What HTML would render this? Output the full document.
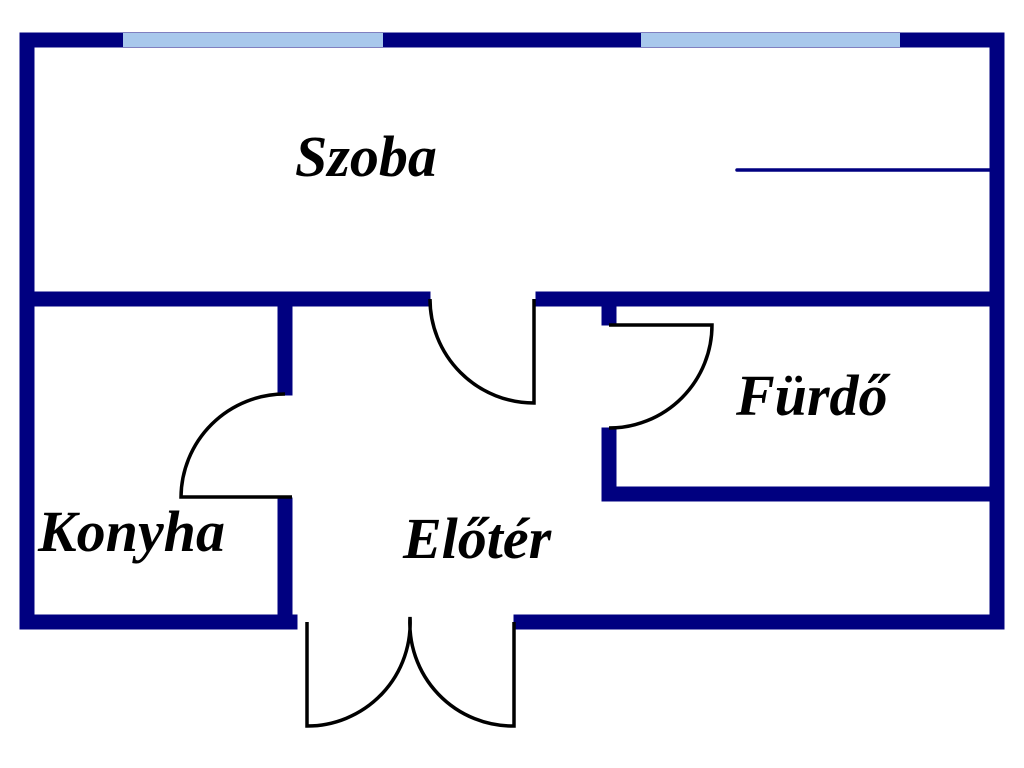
<!DOCTYPE html>
<html><head><meta charset="utf-8"><style>
html,body{margin:0;padding:0;background:#fff;}
svg{display:block;}
text{font-family:"Liberation Serif",serif;font-weight:bold;font-style:italic;fill:#000;font-size:58px;}
</style></head><body>
<svg width="1024" height="768" viewBox="0 0 1024 768" xmlns="http://www.w3.org/2000/svg">
<g stroke="#000080" stroke-width="15" fill="none" stroke-linecap="square">
<line x1="27" y1="40" x2="997" y2="40"/>
<line x1="27" y1="40" x2="27" y2="622"/>
<line x1="997" y1="40" x2="997" y2="622"/>
<line x1="27" y1="622" x2="290" y2="622"/>
<line x1="521" y1="622" x2="997" y2="622"/>
<line x1="27" y1="299" x2="423" y2="299"/>
<line x1="543" y1="299" x2="997" y2="299"/>
<line x1="285" y1="299" x2="285" y2="388"/>
<line x1="285" y1="505" x2="285" y2="622"/>
<line x1="609" y1="299" x2="609" y2="318"/>
<line x1="609" y1="435" x2="609" y2="494"/>
<line x1="609" y1="494" x2="997" y2="494"/>
</g>
<g stroke="#a8c8ec" stroke-width="14">
<line x1="123" y1="40" x2="383" y2="40"/>
<line x1="641" y1="40" x2="900" y2="40"/>
</g>
<line x1="737" y1="170" x2="990" y2="170" stroke="#000080" stroke-width="3.5" stroke-linecap="round"/>
<g stroke="#000" stroke-width="3.5" fill="none">
<path d="M430 299 A104 104 0 0 0 534 403 L534 299"/>
<path d="M292 497 L181 497 A104 104 0 0 1 285 394"/>
<path d="M609 325 L712 325 A103 103 0 0 1 609 428"/>
<path d="M307 622 L307 726 A103 103 0 0 0 410 617 A103 103 0 0 0 514 726 L514 622"/>
</g>
<text x="295" y="176">Szoba</text>
<text x="736" y="415" font-size="56">Fürdő</text>
<text x="38" y="551" font-size="56">Konyha</text>
<text x="403" y="558" font-size="56">Előtér</text>
</svg>
</body></html>
